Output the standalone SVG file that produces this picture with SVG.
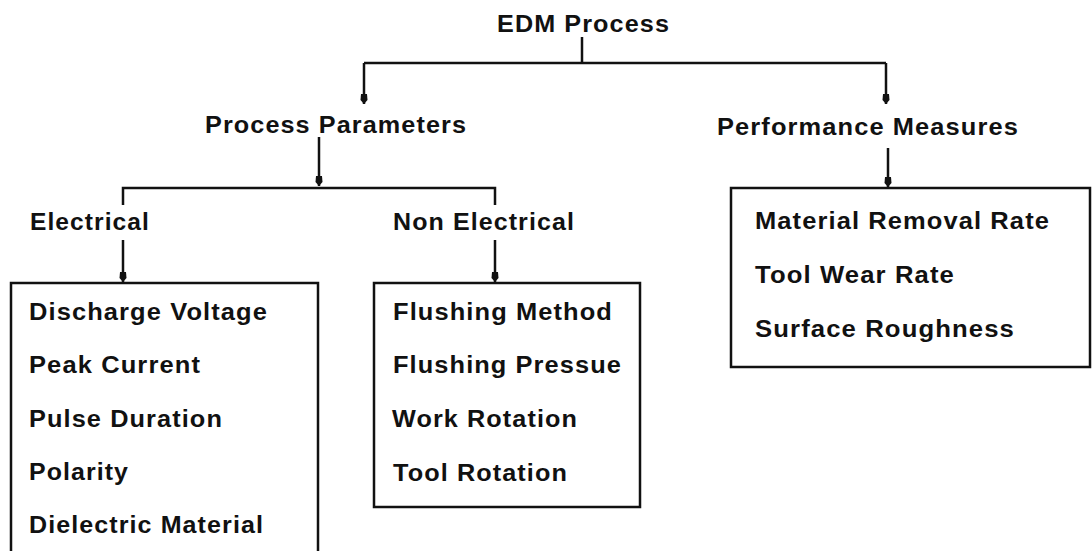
<svg xmlns="http://www.w3.org/2000/svg" width="1092" height="551" viewBox="0 0 1092 551">
  <style>
    text { font-family: "Liberation Sans", Arial, sans-serif; font-weight: bold; font-size: 23px; letter-spacing: 1px; fill: #111; }
    .box { fill: #fff; stroke: #111; stroke-width: 2.5; }
    .wire { fill: none; stroke: #111; stroke-width: 2.5; }
  </style>
  <defs>
    <marker id="tip" markerWidth="8" markerHeight="10" refX="4" refY="10" orient="0" markerUnits="userSpaceOnUse" viewBox="0 0 8 10">
      <path d="M1 0 L7 0 L7.5 6 L4 10 L0.5 6 Z" fill="#111"/>
    </marker>
  </defs>

  <rect width="1092" height="551" fill="#fff"/>

  <!-- connectors -->
  <g id="connectors">
    <path class="wire" d="M582 37 V63"/>
    <path class="wire" d="M364 63 H886"/>
    <path class="wire" d="M364 63 V104" marker-end="url(#tip)"/>
    <path class="wire" d="M886 63 V104" marker-end="url(#tip)"/>
    <path class="wire" d="M319 137 V186" marker-end="url(#tip)"/>
    <path class="wire" d="M123 205 V188 H495 V205"/>
    <path class="wire" d="M123 240 V282" marker-end="url(#tip)"/>
    <path class="wire" d="M495 240 V282" marker-end="url(#tip)"/>
    <path class="wire" d="M888 148 V187" marker-end="url(#tip)"/>
  </g>

  <!-- root -->
  <g id="edm-process">
    <text x="497" y="32" textLength="173" lengthAdjust="spacingAndGlyphs">EDM Process</text>
  </g>

  <g id="process-parameters">
    <text x="205" y="133" textLength="262" lengthAdjust="spacingAndGlyphs">Process Parameters</text>
  </g>

  <g id="performance-measures">
    <text x="717" y="135" textLength="302" lengthAdjust="spacingAndGlyphs">Performance Measures</text>
  </g>

  <g id="electrical">
    <text x="30" y="230" textLength="120" lengthAdjust="spacingAndGlyphs">Electrical</text>
  </g>

  <g id="non-electrical">
    <text x="393" y="230" textLength="182" lengthAdjust="spacingAndGlyphs">Non Electrical</text>
  </g>

  <!-- electrical parameter list -->
  <g id="electrical-list">
    <rect class="box" x="11" y="283" width="307" height="290"/>
    <text x="29" y="320" textLength="239" lengthAdjust="spacingAndGlyphs">Discharge Voltage</text>
    <text x="29" y="373" textLength="172" lengthAdjust="spacingAndGlyphs">Peak Current</text>
    <text x="29" y="427" textLength="194" lengthAdjust="spacingAndGlyphs">Pulse Duration</text>
    <text x="29" y="480" textLength="100" lengthAdjust="spacingAndGlyphs">Polarity</text>
    <text x="29" y="533" textLength="235" lengthAdjust="spacingAndGlyphs">Dielectric Material</text>
  </g>

  <!-- non electrical parameter list -->
  <g id="non-electrical-list">
    <rect class="box" x="374" y="283" width="266" height="224"/>
    <text x="393" y="320" textLength="220" lengthAdjust="spacingAndGlyphs">Flushing Method</text>
    <text x="393" y="373" textLength="229" lengthAdjust="spacingAndGlyphs">Flushing Pressue</text>
    <text x="392" y="427" textLength="186" lengthAdjust="spacingAndGlyphs">Work Rotation</text>
    <text x="393" y="481" textLength="175" lengthAdjust="spacingAndGlyphs">Tool Rotation</text>
  </g>

  <!-- performance measure list -->
  <g id="performance-list">
    <rect class="box" x="731" y="188" width="359" height="179"/>
    <text x="755" y="229" textLength="295" lengthAdjust="spacingAndGlyphs">Material Removal Rate</text>
    <text x="755" y="283" textLength="200" lengthAdjust="spacingAndGlyphs">Tool Wear Rate</text>
    <text x="755" y="337" textLength="260" lengthAdjust="spacingAndGlyphs">Surface Roughness</text>
  </g>
</svg>
